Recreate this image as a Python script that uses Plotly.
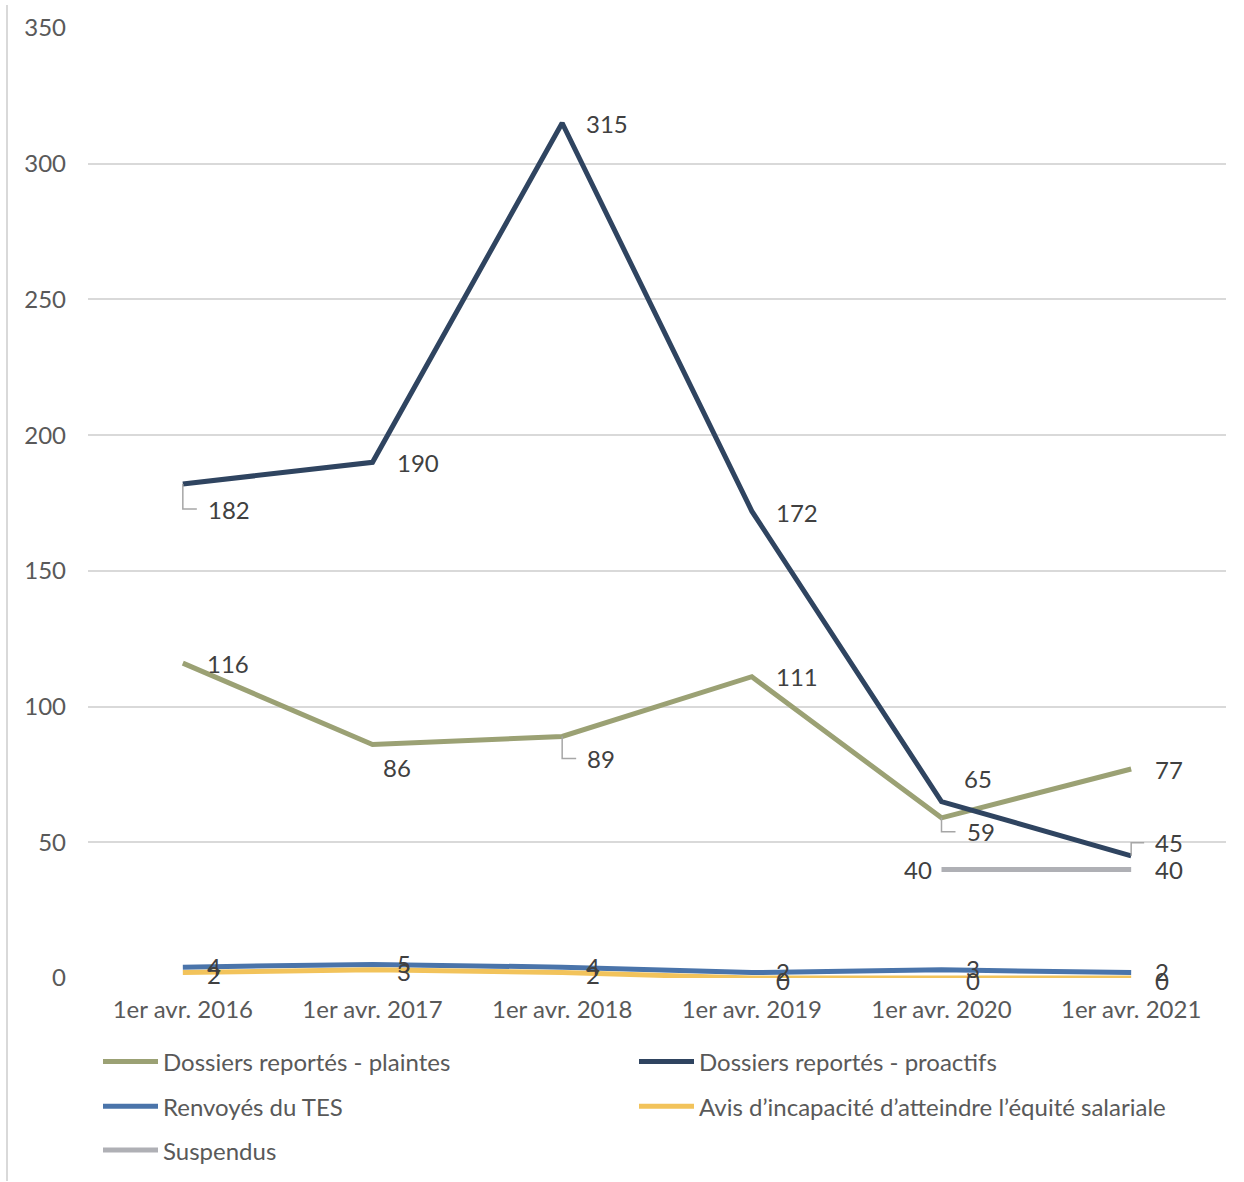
import plotly.graph_objects as go

categories = ["1er avr. 2016", "1er avr. 2017", "1er avr. 2018",
              "1er avr. 2019", "1er avr. 2020", "1er avr. 2021"]

plaintes = [116, 86, 89, 111, 59, 77]
proactifs = [182, 190, 315, 172, 65, 45]
renvoyes_tes = [4, 5, 4, 2, 3, 2]
avis_incapacite = [2, 3, 2, 0, 0, 0]
suspendus = [None, None, None, None, 40, 40]

series_names = [
    "Dossiers reportés - plaintes",
    "Dossiers reportés - proactifs",
    "Renvoyés du TES",
    "Avis d’incapacité d’atteindre l’équité salariale",
    "Suspendus",
]
series_values = [plaintes, proactifs, renvoyes_tes, avis_incapacite, suspendus]
series_colors = ["#9BA174", "#2F4460", "#4A74AA", "#F2C35B", "#AFB0B5"]

y_ticks = [0, 50, 100, 150, 200, 250, 300, 350]

# label offsets (pixels): (dx, dy, anchor, leader)
label_style = {
    0: [(22, 0, "left", None), (8, 23, "left", None), (23, 22, "left", "down"),
        (22, 0, "left", None), (23, 14, "left", "down"), (22, 0, "left", None)],
    1: [(23, 25, "left", "down"), (22, 0, "left", None), (22, 0, "left", None),
        (22, 1, "left", None), (20, -23, "left", None), (22, -13, "left", "up")],
    2: [(22, -1, "left", None)] * 6,
    3: [(22, 2, "left", None)] * 6,
    4: [None, None, None, None, (-8, 0, "right", None), (22, 0, "left", None)],
}

FONT = "Lato, 'Open Sans', sans-serif"
FS = 24

# plot area geometry (pixels) used to place the custom legend
W, H = 1244, 1182
ML, MR, MT, MB = 88, 18, 23, 204
PW, PH = W - ML - MR, H - MT - MB


def px_to_paper_x(px):
    return (px - ML) / PW


def px_to_paper_y(py):
    return (H - MB - py) / PH


fig = go.Figure()
for name, vals, col in zip(series_names, series_values, series_colors):
    fig.add_trace(go.Scatter(
        x=categories, y=vals, mode="lines", name=name,
        line=dict(color=col, width=5), hoverinfo="skip", showlegend=False,
    ))

annotations = []
shapes = []
for si, vals in enumerate(series_values):
    for i, v in enumerate(vals):
        if v is None:
            continue
        st = label_style[si][i]
        if st is None:
            continue
        dx, dy, anchor, leader = st
        annotations.append(dict(
            x=categories[i], y=v, xref="x", yref="y", text=str(v),
            showarrow=False, xanchor=anchor, yanchor="middle",
            xshift=dx, yshift=-dy,
            font=dict(family=FONT, size=FS, color="#404040"),
        ))
        if leader is not None:
            shapes.append(dict(
                type="path", xref="x", yref="y",
                xsizemode="pixel", ysizemode="pixel",
                xanchor=categories[i], yanchor=v,
                path=f"M0,0 L0,{-dy} L{dx - 9},{-dy}",
                line=dict(color="#A6A6A6", width=1.5),
                layer="above",
            ))

# custom legend (two columns, three rows)
legend_cols = [103, 639]
legend_rows = [1062, 1107, 1151]
for k, (name, col) in enumerate(zip(series_names, series_colors)):
    cx = legend_cols[k % 2]
    cy = legend_rows[k // 2]
    shapes.append(dict(
        type="line", xref="paper", yref="paper",
        x0=px_to_paper_x(cx), x1=px_to_paper_x(cx + 55),
        y0=px_to_paper_y(cy), y1=px_to_paper_y(cy),
        line=dict(color=col, width=5),
    ))
    annotations.append(dict(
        x=px_to_paper_x(cx + 58), y=px_to_paper_y(cy), xref="paper", yref="paper",
        text=name, showarrow=False, xanchor="left", yanchor="middle",
        font=dict(family=FONT, size=FS, color="#595959"),
    ))

# chart outer border line at left
shapes.append(dict(type="line", xref="paper", yref="paper",
                   x0=px_to_paper_x(7), x1=px_to_paper_x(7),
                   y0=px_to_paper_y(H), y1=px_to_paper_y(0),
                   line=dict(color="#D9D9D9", width=2)))

fig.update_layout(
    width=W, height=H,
    margin=dict(l=ML, r=MR, t=MT, b=MB),
    paper_bgcolor="white", plot_bgcolor="white",
    font=dict(family=FONT, size=FS, color="#595959"),
    showlegend=False,
    xaxis=dict(
        type="category", range=[-0.5, len(categories) - 0.5],
        showgrid=False, zeroline=False, showline=False,
        ticks="", tickfont=dict(family=FONT, size=FS, color="#595959"),
        ticklabelstandoff=15,
    ),
    yaxis=dict(
        range=[0, 350], tickvals=y_ticks, showgrid=True, gridcolor="#D9D9D9",
        gridwidth=1.5, zeroline=False, showline=False, ticks="",
        tickfont=dict(family=FONT, size=FS, color="#595959"),
        ticklabelstandoff=21,
    ),
    annotations=annotations,
    shapes=shapes,
)

fig.write_html("out.html")
